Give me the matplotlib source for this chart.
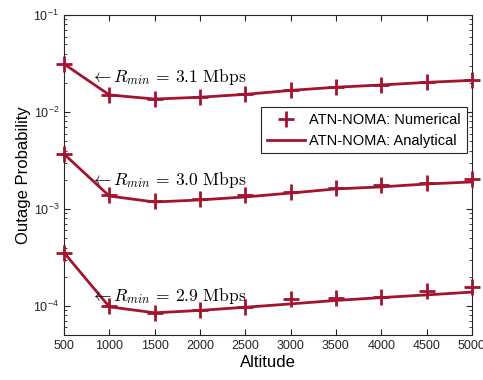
import numpy as np
import matplotlib
matplotlib.use("Agg")
import matplotlib.pyplot as plt

plt.rcParams['font.family'] = ['Liberation Sans', 'DejaVu Sans']
plt.rcParams['mathtext.fontset'] = 'cm'

# altitude sweep
altitude = [500, 1000, 1500, 2000, 2500, 3000, 3500, 4000, 4500, 5000]

# outage probability, Rmin = 3.1 Mbps
num_31 = [0.0313, 0.0150, 0.0136, 0.0143, 0.0153, 0.0169, 0.0181, 0.0190, 0.0204, 0.0216]
ana_31 = [0.0313, 0.0150, 0.0136, 0.0142, 0.0152, 0.0167, 0.0180, 0.0190, 0.0202, 0.0212]
# Rmin = 3.0 Mbps
num_30 = [0.00369, 0.00139, 0.00120, 0.00126, 0.00138, 0.00150, 0.00165, 0.00178, 0.00185, 0.00205]
ana_30 = [0.00369, 0.00136, 0.00118, 0.00124, 0.00133, 0.00146, 0.00161, 0.00169, 0.00181, 0.00190]
# Rmin = 2.9 Mbps
num_29 = [3.55e-4, 1.00e-4, 8.5e-5, 9.1e-5, 9.8e-5, 1.18e-4, 1.20e-4, 1.24e-4, 1.41e-4, 1.58e-4]
ana_29 = [3.55e-4, 0.98e-4, 8.5e-5, 9.0e-5, 9.7e-5, 1.05e-4, 1.14e-4, 1.22e-4, 1.30e-4, 1.39e-4]

labels = [r'$\leftarrow R_{min}\,=\,3.1\ \mathrm{Mbps}$',
          r'$\leftarrow R_{min}\,=\,3.0\ \mathrm{Mbps}$',
          r'$\leftarrow R_{min}\,=\,2.9\ \mathrm{Mbps}$']
label_y = [0.0230, 0.00199, 1.26e-4]

col = '#A2142F'

fig = plt.figure(figsize=(4.83, 3.80), dpi=100)
ax = fig.add_axes([0.1325, 0.118, 0.8445, 0.8425])

for i, (num, ana) in enumerate([(num_31, ana_31), (num_30, ana_30), (num_29, ana_29)]):
    ax.plot(altitude, num, ls='none', marker='+', ms=12, mew=2, color=col, clip_on=False,
            label='ATN-NOMA: Numerical' if i == 0 else None, zorder=3)
    ax.plot(altitude, ana, ls='-', lw=2, color=col, clip_on=False,
            label='ATN-NOMA: Analytical' if i == 0 else None, zorder=3)

for txt, y in zip(labels, label_y):
    ax.text(790, y, txt, fontsize=12.6, va='center', ha='left')

ax.set_yscale('log')
ax.set_xlim(500, 5000)
ax.set_ylim(5e-5, 1e-1)
ax.set_xticks(altitude)
ax.tick_params(which='both', direction='in', top=True, right=True, labelsize=9, colors='#262626')
ax.tick_params(which='major', length=4)
ax.tick_params(which='minor', length=2)
for s in ax.spines.values():
    s.set_color('#262626')
    s.set_linewidth(0.8)

ax.set_xlabel('Altitude', fontsize=12, labelpad=2)
ax.set_ylabel('Outage Probability', fontsize=12, labelpad=2)

leg = ax.legend(loc='upper right', bbox_to_anchor=(0.987, 0.712), fontsize=10.5,
                fancybox=False, framealpha=1, edgecolor='#262626',
                handlelength=2.6, borderpad=0.4, labelspacing=0.45, handletextpad=0.3,
                borderaxespad=0)
leg.get_frame().set_linewidth(0.8)
leg.set_zorder(5)

fig.savefig('out.png', dpi=100)
